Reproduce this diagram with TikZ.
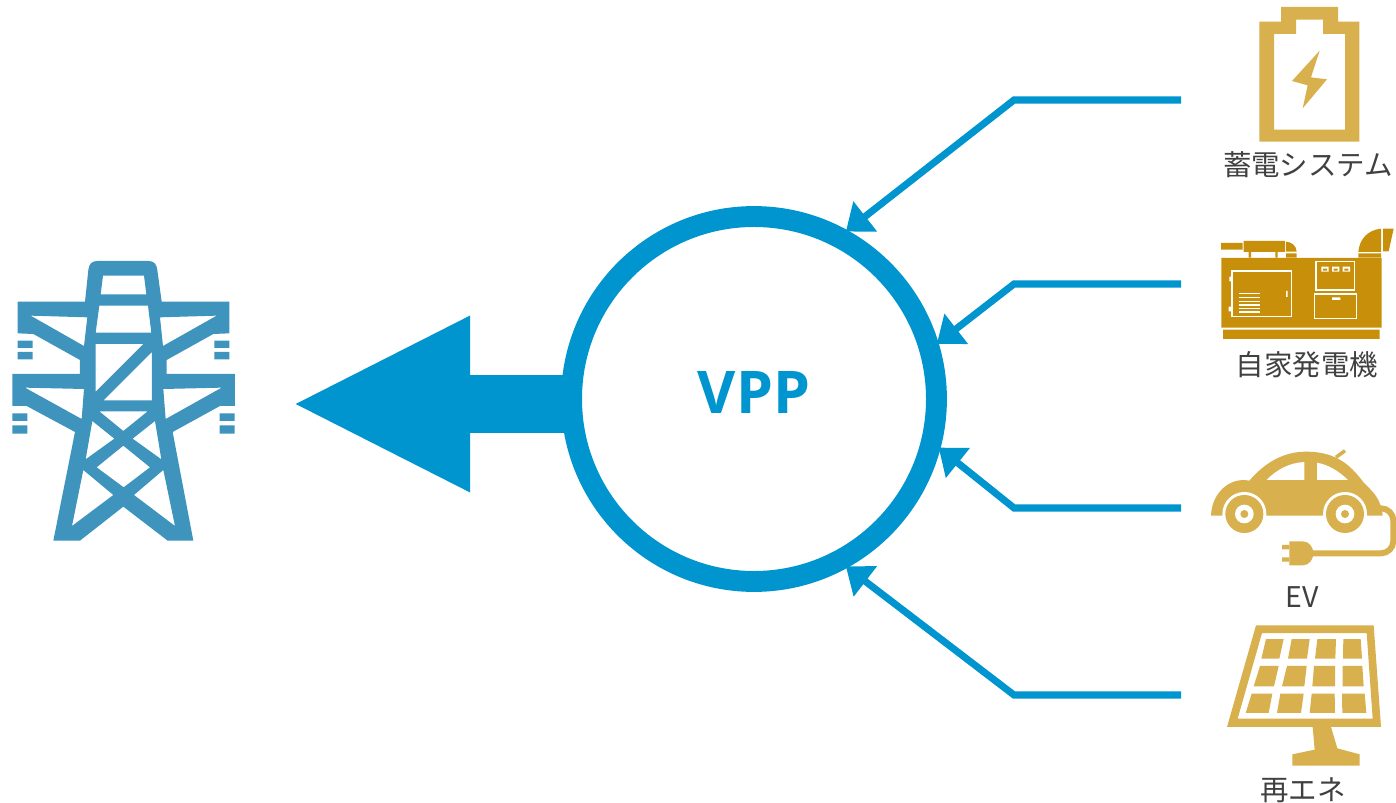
\documentclass[tikz,border=0pt]{standalone}
\usepackage{fontspec}
\setmainfont{Noto Sans CJK JP}
\newfontfamily\vppfont{Open Sans}
\usetikzlibrary{arrows.meta}
\definecolor{vppblue}{HTML}{0095CF}
\definecolor{towerblue}{HTML}{3E94BD}
\definecolor{gold}{HTML}{D8B04E}
\definecolor{darkgold}{HTML}{C8900A}
\definecolor{labelgray}{HTML}{404040}
\tikzset{
  icon/.style={shift={#1},x=0.0066667cm,y=-0.0066667cm},
  feed/.style={draw=vppblue,line width=4pt,shorten >=-1.2pt,-{Triangle[length=14pt,width=21pt]}},
  label/.style={text=labelgray,font=\fontsize{16.2}{18}\selectfont,inner sep=0pt}
}
\begin{document}
\begin{tikzpicture}[x=0.02cm,y=-0.02cm]
  \useasboundingbox (0,0) rectangle (1396,803);

  \node[circle,draw=vppblue,line width=11.9pt,minimum size=7.3cm,inner sep=0pt] (vpp) at (754,399) {};
  \node[text=vppblue,font=\vppfont\bfseries\fontsize{33.5}{36}\selectfont,inner sep=0pt] (vpplabel) at (754,392) {VPP};

  \coordinate (grid) at (291,404);
  \draw[vppblue,line width=32.9pt,-{Triangle[length=102pt,width=92.5pt]}]
    ([xshift=6pt]vpp.west |- grid) -- (grid);

  \coordinate (batt) at (1181,100);
  \coordinate (battbend) at (1014,100);
  \draw[feed] (batt) -- (battbend) -- (vpp.61);

  \coordinate (gen) at (1181,284);
  \coordinate (genbend) at (1014,284);
  \draw[feed] (gen) -- (genbend) -- (vpp.17);

  \coordinate (ev) at (1181,508);
  \coordinate (evbend) at (1014,508);
  \draw[feed] (ev) -- (evbend) -- (vpp.-15);

  \coordinate (solar) at (1181,695);
  \coordinate (solarbend) at (1014,695);
  \draw[feed] (solar) -- (solarbend) -- (vpp.-61);

  \node[label] (battlabel) at (1308,165) {蓄電システム};
  \node[label] (genlabel) at (1307,365) {自家発電機};
  \node[label] (evlabel) at (1302,597) {EV};
  \node[label] (solarlabel) at (1303,790) {再エネ};

  % tower
  \begin{scope}[icon={(0,250)}]
    \fill[towerblue,even odd rule]
      (265,60) .. controls (267,42) and (275,33) .. (292,33) -- (445,33)
      .. controls (462,33) and (470,42) .. (472,60)
      -- (485,155) -- (688,155) -- (688,250) -- (640,252) -- (500,330) -- (500,372)
      -- (705,372) -- (705,468) -- (660,468) -- (518,546) -- (580,872) -- (503,872)
      -- (370,770) -- (240,872) -- (160,872) -- (225,546) -- (80,468) -- (37,468)
      -- (37,372) -- (240,372) -- (240,330) -- (100,252) -- (53,250) -- (53,155)
      -- (255,155) -- cycle
      (309,77) -- (432,77) -- (439,133) -- (302,133) -- cycle
      (298,167) -- (444,167) -- (454,248) -- (287,248) -- cycle
      (92,197) -- (262,202) -- (252,288) -- cycle
      (650,197) -- (480,202) -- (489,288) -- cycle
      (287,282) -- (430,282) -- (287,425) -- cycle
      (456,306) -- (456,451) -- (311,451) -- cycle
      (75,413) -- (252,417) -- (245,507) -- cycle
      (665,413) -- (490,417) -- (497,507) -- cycle
      (298,484) -- (443,484) -- (370,543) -- cycle
      (277,513) -- (343,566) -- (257,628) -- cycle
      (465,513) -- (398,566) -- (484,628) -- cycle
      (370,587) -- (450,652) -- (371,712) -- (290,652) -- cycle
      (250,660) -- (340,735) -- (216,828) -- cycle
      (490,660) -- (402,735) -- (525,828) -- cycle;
    \fill[towerblue] (53,272) rectangle (98,294) (53,306) rectangle (98,328)
      (643,272) rectangle (688,294) (643,306) rectangle (688,328)
      (37,490) rectangle (82,513) (37,526) rectangle (82,551)
      (659,490) rectangle (704,513) (659,526) rectangle (704,551);
  \end{scope}

  % battery
  \begin{scope}[icon={(1196,0)}]
    \fill[gold,even odd rule]
      (190,65) -- (255,65) -- (255,21) -- (426,21) -- (426,65) -- (490,65) -- (490,425) -- (190,425) -- cycle
      (234,102) -- (300,102) -- (300,59) -- (381,59) -- (381,102) -- (447,102) -- (447,389) -- (234,389) -- cycle;
    \fill[gold] (371,152) -- (345,232) -- (393,238) -- (320,325) -- (335,256) -- (288,243) -- cycle;
  \end{scope}

  % generator
  \begin{scope}[icon={(1196,220)}]
    \fill[darkgold] (76,114) rectangle (557,323) (81,329) rectangle (551,357)
      (75,69) rectangle (140,89) (143,63) rectangle (267,96)
      (158,96) rectangle (165,112) (238,96) rectangle (245,112)
      (270,100) rectangle (302,112) (487,100) rectangle (555,112);
    \fill[darkgold] (270,65) .. controls (288,66) and (301,78) .. (302,95) -- (270,95) -- cycle;
    \fill[darkgold] (487,96) .. controls (490,58) and (515,30) .. (555,26) -- (555,96) -- cycle;
    \fill[darkgold] (561,26) -- (593,26) -- (578,94) -- (561,94) -- cycle;
    \draw[white,line width=0.7pt] (108,153) rectangle (286,290)
      (360,125) rectangle (476,210) (355,222) rectangle (481,296);
    \draw[white,line width=0.6pt] \foreach \ypos in {221,232,244,255,265,276} {(129,\ypos) -- (192,\ypos)};
    \fill[white] (376,140) rectangle (398,155) (408,140) rectangle (430,155) (440,140) rectangle (462,155);
    \fill[darkgold] (381,146) rectangle (393,152) (413,146) rectangle (425,152) (445,146) rectangle (457,152);
    \fill[white] (408,232) rectangle (433,240) (270,213) rectangle (275,231)
      (100,170) rectangle (108,184) (98,260) rectangle (108,274);
  \end{scope}

  % car
  \begin{scope}[icon={(1196,440)}]
    \fill[gold] (45,227) .. controls (47,160) and (100,110) .. (160,122)
      .. controls (205,70) and (260,35) .. (330,35) .. controls (430,35) and (470,85) .. (505,130)
      .. controls (530,155) and (555,175) .. (560,227) -- cycle;
    \draw[gold,line width=2pt] (420,52) -- (447,32);
    \fill[white] (212,120) .. controls (240,90) and (280,68) .. (325,66) -- (325,120) -- cycle;
    \fill[white] (363,68) .. controls (400,75) and (430,95) .. (456,120) -- (363,120) -- cycle;
    \fill[white] (145,222) circle (66) (447,222) circle (66);
    \fill[gold] (145,222) circle (57) (447,222) circle (57);
    \fill[white] (145,222) circle (28) (447,222) circle (28);
    \fill[gold] (145,222) circle (12) (447,222) circle (12);
    \draw[gold,line width=3.4pt,rounded corners=7pt] (550,205) -- (592,205) -- (592,340) -- (345,340);
    \fill[gold] (280,304) -- (320,304) .. controls (340,304) and (352,322) .. (352,340)
      .. controls (352,358) and (340,376) .. (320,376) -- (280,376) -- cycle;
    \fill[gold] (258,315) rectangle (280,328) (258,352) rectangle (280,365);
  \end{scope}

  % solar panel
  \begin{scope}[icon={(1196,615)}]
    \fill[gold,even odd rule]
      (180,31) -- (533,31) -- (555,336) -- (93,336) -- cycle
      (198,54) -- (512,54) -- (530,311) -- (125,311) -- cycle;
    \fill[gold]
      (210,72) -- (263,72) -- (250,131) -- (196,131) -- cycle
      (287,72) -- (341,72) -- (333,131) -- (276,131) -- cycle
      (364,72) -- (420,72) -- (418,131) -- (357,131) -- cycle
      (442,72) -- (494,72) -- (498,131) -- (441,131) -- cycle
      (192,153) -- (248,153) -- (234,214) -- (173,214) -- cycle
      (273,153) -- (332,153) -- (325,214) -- (258,214) -- cycle
      (354,153) -- (417,153) -- (417,214) -- (349,214) -- cycle
      (440,153) -- (499,153) -- (503,214) -- (440,214) -- cycle
      (167,236) -- (229,236) -- (218,294) -- (149,294) -- cycle
      (253,236) -- (323,236) -- (315,294) -- (243,294) -- cycle
      (347,236) -- (416,236) -- (417,294) -- (341,294) -- cycle
      (438,236) -- (506,236) -- (511,294) -- (439,294) -- cycle;
    \fill[gold] (350,336) -- (405,336) -- (424,400) -- (491,418) -- (491,452)
      -- (289,452) -- (289,418) -- (356,404) -- cycle;
  \end{scope}
\end{tikzpicture}
\end{document}
